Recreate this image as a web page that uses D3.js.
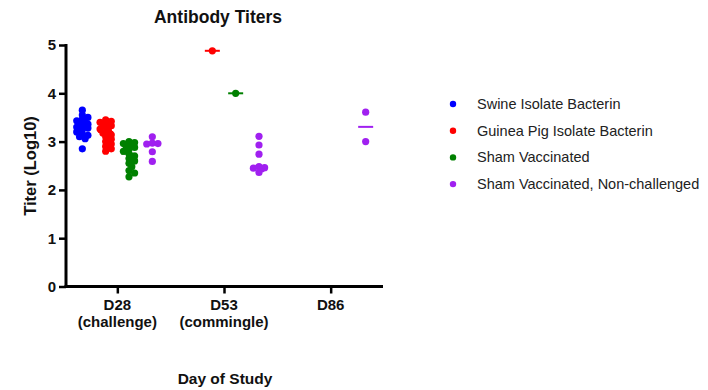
<!DOCTYPE html>
<html>
<head>
<meta charset="utf-8">
<script src="https://cdn.jsdelivr.net/npm/d3@7"></script>
<style>
  body { margin: 0; background: #fff; }
  text { font-family: Arial, "Liberation Sans", sans-serif; }
</style>
</head>
<body>
<div id="chart"></div>
<script>
// ******* Data *******
var days = ["D28", "D53", "D86"];
var dayNotes = ["(challenge)", "(commingle)", ""];
var series = ["Swine Isolate Bacterin", "Guinea Pig Isolate Bacterin", "Sham Vaccinated", "Sham Vaccinated, Non-challenged"];
var colour = ["#0000ff", "#ff0000", "#008000", "#a020f0"];
var yTicks = [0, 1, 2, 3, 4, 5];

// titers per series, per day (empty = no samples)
var swine = [
  [3.65, 3.55, 3.5, 3.46, 3.43, 3.4, 3.38, 3.36, 3.33, 3.3, 3.28, 3.25, 3.2, 3.16, 3.13, 3.1, 3.06, 2.85],
  [],
  []
];
var guinea = [
  [3.45, 3.42, 3.4, 3.38, 3.36, 3.33, 3.3, 3.26, 3.22, 3.18, 3.14, 3.1, 3.05, 3.0, 2.95, 2.9, 2.85, 2.8],
  [4.88],
  []
];
var sham = [
  [3.0, 2.98, 2.96, 2.93, 2.9, 2.88, 2.85, 2.8, 2.75, 2.7, 2.65, 2.6, 2.55, 2.48, 2.4, 2.35, 2.27],
  [4.0],
  []
];
var nonChallenged = [
  [3.1, 2.97, 2.96, 2.95, 2.79, 2.59],
  [3.11, 2.93, 2.74, 2.48, 2.46, 2.45, 2.44, 2.36],
  [3.61, 3.0]
];
var allValues = [swine, guinea, sham, nonChallenged];

// ******* Chart set up *******
var w = 708, h = 390;
var svg = d3.select("#chart").append("svg").attr("width", w).attr("height", h);

var x = d3.scalePoint().domain(days).range([64, 384]).padding(0.5);
var xGroup = d3.scalePoint().domain(series).range([-35, 35]);
var y = d3.scaleLinear().domain([0, 5]).range([286.5, 45]);

// ******* Axes *******
var yAxis = svg.append("g").attr("transform", "translate(66,0)")
  .call(d3.axisLeft(y).tickValues(yTicks).tickSize(7).tickPadding(3).tickFormat(d3.format("d")));
yAxis.select(".domain").attr("stroke-width", 3).attr("d", "M0," + (y(0) + 1.5) + "V" + (y(5) - 1));
yAxis.selectAll(".tick line").attr("stroke-width", 2.5);
yAxis.selectAll(".tick text").attr("font-size", 15).attr("font-weight", "bold").attr("fill", "#111");

var xAxis = svg.append("g").attr("transform", "translate(0," + y(0) + ")")
  .call(d3.axisBottom(x).tickSize(7).tickFormat(""));
xAxis.select(".domain").attr("stroke-width", 3).attr("d", "M64.5,0H383");
xAxis.selectAll(".tick line").attr("stroke-width", 2.5);

// tick labels, two lines each
days.forEach(function (d, i) {
  var t = svg.append("text").attr("x", x(d)).attr("y", 310)
    .attr("text-anchor", "middle").attr("font-size", 15).attr("font-weight", "bold").attr("fill", "#111");
  t.append("tspan").attr("x", x(d)).text(d);
  if (dayNotes[i]) t.append("tspan").attr("x", x(d)).attr("dy", 17).text(dayNotes[i]);
});

// ******* Titles *******
svg.append("text").attr("x", 218).attr("y", 23).attr("text-anchor", "middle")
  .attr("font-size", 17.5).attr("font-weight", "bold").attr("fill", "#111").text("Antibody Titers");
svg.append("text").attr("transform", "translate(36,166) rotate(-90)").attr("text-anchor", "middle")
  .attr("font-size", 16.5).attr("font-weight", "bold").attr("fill", "#111").text("Titer (Log10)");
svg.append("text").attr("x", 225).attr("y", 384).attr("text-anchor", "middle")
  .attr("font-size", 15.5).attr("font-weight", "bold").attr("fill", "#111").text("Day of Study");

// ******* Points (narrow beeswarm, dots may overlap a little) *******
var r = 3.6;
function swarm(vals) {
  var placed = [];
  vals.slice().sort(function (a, b) { return b - a; }).forEach(function (v) {
    var py = y(v);
    var steps = [0, 1, -1, 2, -2];
    var best = 0, bestGap = -1;
    for (var k = 0; k < steps.length; k++) {
      var cx = steps[k] * 2.8;
      var gap = d3.min(placed, function (p) { return Math.hypot(p.dx - cx, p.y - py); });
      if (gap === undefined || gap >= r * 1.1) { best = cx; bestGap = Infinity; break; }
      if (gap > bestGap) { bestGap = gap; best = cx; }
    }
    placed.push({ dx: best, y: py, v: v });
  });
  return placed;
}

var g = svg.append("g");
series.forEach(function (s, si) {
  days.forEach(function (d, di) {
    var vals = allValues[si][di];
    if (!vals.length) return;
    var cx0 = x(d) + xGroup(s);
    var pts = swarm(vals);
    g.selectAll(null).data(pts).enter().append("circle")
      .attr("cx", function (p) { return cx0 + p.dx; })
      .attr("cy", function (p) { return p.y; })
      .attr("r", r)
      .attr("fill", colour[si]);
    var med = d3.median(vals);
    g.append("line")
      .attr("x1", cx0 - 7.5).attr("x2", cx0 + 7.5)
      .attr("y1", y(med)).attr("y2", y(med))
      .attr("stroke", colour[si]).attr("stroke-width", 2);
  });
});

// ******* Legend *******
var legend = svg.append("g");
series.forEach(function (s, i) {
  var ly = 104 + i * 26.7;
  legend.append("circle").attr("cx", 453).attr("cy", ly).attr("r", 3.2).attr("fill", colour[i]);
  legend.append("text").attr("x", 477).attr("y", ly).attr("dy", "0.35em")
    .attr("font-size", 14.5).attr("fill", "#222").text(s);
});
</script>
</body>
</html>
